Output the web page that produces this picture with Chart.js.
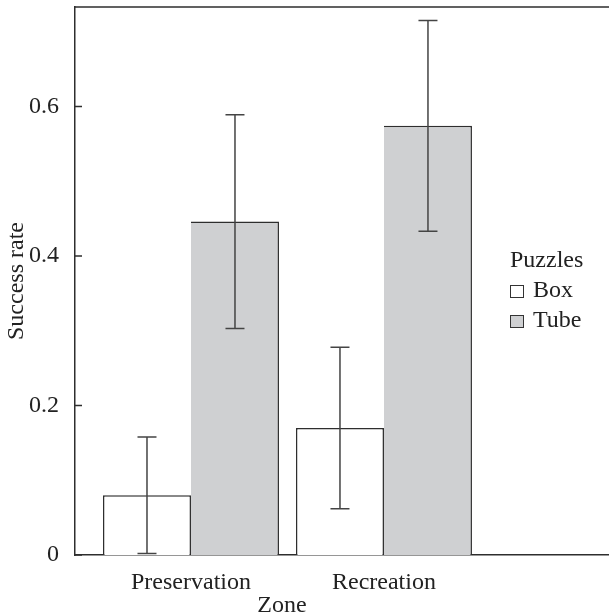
<!DOCTYPE html>
<html>
<head>
<meta charset="utf-8">
<script src="https://cdn.jsdelivr.net/npm/chart.js@4.4.1/dist/chart.umd.min.js"></script>
<style>
  body { margin: 0; background: #fff; }
  #wrap { position: relative; width: 609px; height: 616px; font-family: 'Liberation Serif', serif; color: #222; }
  #zona { position: absolute; left: 0; top: 592px; width: 564px; text-align: center; font-size: 24px; line-height: 24px; }
  #legenda { position: absolute; left: 510px; top: 244px; font-size: 24px; line-height: 30px; }
  #legenda .item { position: relative; height: 30px; padding-left: 23px; }
  #legenda .quadro { position: absolute; left: 0; top: 11px; width: 12px; height: 11px; border: 1.5px solid #333; }
</style>
</head>
<body>
<div id="wrap">
  <canvas id="grafico" width="609" height="616"></canvas>
  <div id="legenda"></div>
  <div id="zona">Zone</div>
</div>
<script>
// dados
const zonas = ['Preservation', 'Recreation'];
const posZonas = [1, 2];
const series = ['Box', 'Tube'];
const taxaBox = [0.080, 0.170];
const erroBox = [0.078, 0.108];
const taxaTube = [0.446, 0.574];
const erroTube = [0.143, 0.141];
const ticksY = [0, 0.2, 0.4, 0.6];
const cores = ['#ffffff', '#cfd0d2'];

const linha = '#2e2e2e';

// legenda em html
let htmlLegenda = `<div>Puzzles</div>`;
series.forEach((nome, i) => {
    htmlLegenda += `<div class="item"><span class="quadro" style="background:${cores[i]}"></span>${nome}</div>`;
});
document.getElementById('legenda').innerHTML = htmlLegenda;

// barras de erro, topo do quadro e ticks internos do eixo y
const pluginExtras = {
    id: 'extras',
    afterDatasetsDraw(chart) {
        const ctx = chart.ctx;
        const y = chart.scales.y;
        const erros = [erroBox, erroTube];
        ctx.save();
        ctx.strokeStyle = '#444';
        ctx.lineWidth = 1.5;
        chart.data.datasets.forEach((ds, d) => {
            const meta = chart.getDatasetMeta(d);
            meta.data.forEach((bar, i) => {
                const v = ds.data[i].y;
                const yTop = y.getPixelForValue(v + erros[d][i]);
                const yBot = y.getPixelForValue(v - erros[d][i]);
                ctx.beginPath();
                ctx.moveTo(bar.x, yTop);
                ctx.lineTo(bar.x, yBot);
                ctx.moveTo(bar.x - 9.5, yTop);
                ctx.lineTo(bar.x + 9.5, yTop);
                ctx.moveTo(bar.x - 9.5, yBot);
                ctx.lineTo(bar.x + 9.5, yBot);
                ctx.stroke();
            });
        });
        ctx.restore();
    },
    afterDraw(chart) {
        const ctx = chart.ctx;
        const area = chart.chartArea;
        const y = chart.scales.y;
        ctx.save();
        ctx.strokeStyle = linha;
        ctx.lineWidth = 1.5;
        ctx.beginPath();
        ctx.moveTo(area.left, area.top);
        ctx.lineTo(area.right, area.top);
        ticksY.forEach(t => {
            const py = y.getPixelForValue(t);
            ctx.moveTo(area.left, py);
            ctx.lineTo(area.left + 7, py);
        });
        ctx.stroke();
        ctx.restore();
    }
};

function semPadding(scale) {
    scale.paddingTop = 0;
    scale.paddingBottom = 0;
    scale.paddingLeft = 0;
    scale.paddingRight = 0;
}

Chart.defaults.font.family = "'Liberation Serif', serif";
Chart.defaults.font.size = 24;
Chart.defaults.color = '#222';

new Chart(document.getElementById('grafico'), {
    type: 'bar',
    data: {
        datasets: [
            {
                label: series[0],
                data: posZonas.map((x, i) => ({ x: x, y: taxaBox[i] })),
                backgroundColor: cores[0],
                borderColor: linha,
                borderWidth: 1.5
            },
            {
                label: series[1],
                data: posZonas.map((x, i) => ({ x: x, y: taxaTube[i] })),
                backgroundColor: cores[1],
                borderColor: linha,
                borderWidth: { top: 1.5, right: 1.5, bottom: 0, left: 0 }
            }
        ]
    },
    options: {
        responsive: false,
        animation: false,
        devicePixelRatio: 1,
        categoryPercentage: 176 / 193,
        barPercentage: 1,
        layout: { padding: { top: 7, right: 0, left: 0, bottom: 0 } },
        plugins: {
            legend: { display: false },
            tooltip: { enabled: false }
        },
        scales: {
            x: {
                type: 'linear',
                min: 0.399,
                max: 3.166,
                offset: false,
                grid: { display: false },
                border: { display: true, color: linha, width: 1.5 },
                afterBuildTicks: (scale) => { scale.ticks = posZonas.map(v => ({ value: v })); },
                afterFit: (scale) => { scale.height = 61; semPadding(scale); },
                ticks: {
                    padding: 5,
                    maxRotation: 0,
                    callback: (v) => zonas[posZonas.indexOf(v)]
                }
            },
            y: {
                min: 0,
                max: 0.733,
                grid: { display: false },
                border: { display: true, color: linha, width: 1.5 },
                afterBuildTicks: (scale) => { scale.ticks = ticksY.map(v => ({ value: v })); },
                afterFit: (scale) => { scale.width = 75; semPadding(scale); },
                ticks: {
                    padding: 8,
                    callback: (v) => v === 0 ? '0' : v.toFixed(1)
                },
                title: {
                    display: true,
                    text: 'Success rate',
                    padding: { top: 2.5, bottom: 0 }
                }
            }
        }
    },
    plugins: [pluginExtras]
});
</script>
</body>
</html>
